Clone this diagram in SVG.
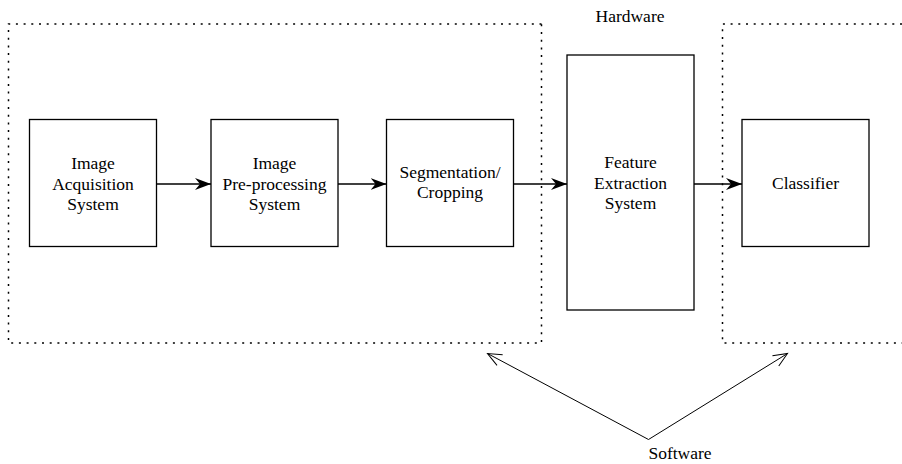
<svg xmlns="http://www.w3.org/2000/svg" width="902" height="464" viewBox="0 0 902 464">
<style>
.box{fill:#fff;stroke:#000;stroke-width:1.3}
.dot{fill:none;stroke:#000;stroke-width:1.5;stroke-dasharray:2 5.7}
.t{font-family:"Liberation Serif","Times New Roman",serif;font-size:17.5px;fill:#000;text-anchor:middle}
.c{fill:none;stroke:#000;stroke-width:1.3}
.s{fill:none;stroke:#000;stroke-width:1}
</style>
<defs>
<marker id="ah" markerUnits="userSpaceOnUse" markerWidth="20" markerHeight="14" refX="16" refY="7" orient="auto">
<path d="M0,1 L16,7 L0,13 L5,7 Z" fill="#000"/>
</marker>
<marker id="oh" markerUnits="userSpaceOnUse" markerWidth="20" markerHeight="16" refX="16" refY="8" orient="auto">
<path d="M2,2 L16,8 L2,14" fill="none" stroke="#000" stroke-width="1"/>
</marker>
</defs>
<rect width="902" height="464" fill="#fff"/>
<g id="groups">
<path class="dot" d="M541.5,24 L8.5,24 L8.5,343 L541.5,343 L541.5,24"/>
<path class="dot" d="M902,24 L722.5,24 L722.5,343 L902,343"/>
</g>
<g id="hardware"><text class="t" x="630" y="22">Hardware</text></g>
<g id="n1">
<rect class="box" x="29.5" y="119.5" width="127" height="127"/>
<text class="t" x="93" y="169">Image</text>
<text class="t" x="93" y="189.5">Acquisition</text>
<text class="t" x="93" y="210">System</text>
</g>
<g id="n2">
<rect class="box" x="211" y="119.5" width="127" height="127"/>
<text class="t" x="274.5" y="169">Image</text>
<text class="t" x="274.5" y="189.5">Pre-processing</text>
<text class="t" x="274.5" y="210">System</text>
</g>
<g id="n3">
<rect class="box" x="386.5" y="119.5" width="127" height="127"/>
<text class="t" x="450" y="178">Segmentation/</text>
<text class="t" x="450" y="198">Cropping</text>
</g>
<g id="n4">
<rect class="box" x="567" y="55" width="127" height="255"/>
<text class="t" x="630.5" y="168">Feature</text>
<text class="t" x="630.5" y="188.5">Extraction</text>
<text class="t" x="630.5" y="209">System</text>
</g>
<g id="n5">
<rect class="box" x="742" y="119.5" width="127" height="127"/>
<text class="t" x="805.5" y="189">Classifier</text>
</g>
<g id="software"><text class="t" x="680" y="459">Software</text></g>
<g id="connectors">
<line class="c" x1="156.5" y1="184" x2="211" y2="184" marker-end="url(#ah)"/>
<line class="c" x1="338" y1="184" x2="386.5" y2="184" marker-end="url(#ah)"/>
<line class="c" x1="513.5" y1="184" x2="567" y2="184" marker-end="url(#ah)"/>
<line class="c" x1="694" y1="184" x2="742" y2="184" marker-end="url(#ah)"/>
<line class="s" x1="648.5" y1="439.5" x2="487.5" y2="353.5" marker-end="url(#oh)"/>
<line class="s" x1="648.5" y1="439.5" x2="787.5" y2="353.5" marker-end="url(#oh)"/>
</g>
</svg>
